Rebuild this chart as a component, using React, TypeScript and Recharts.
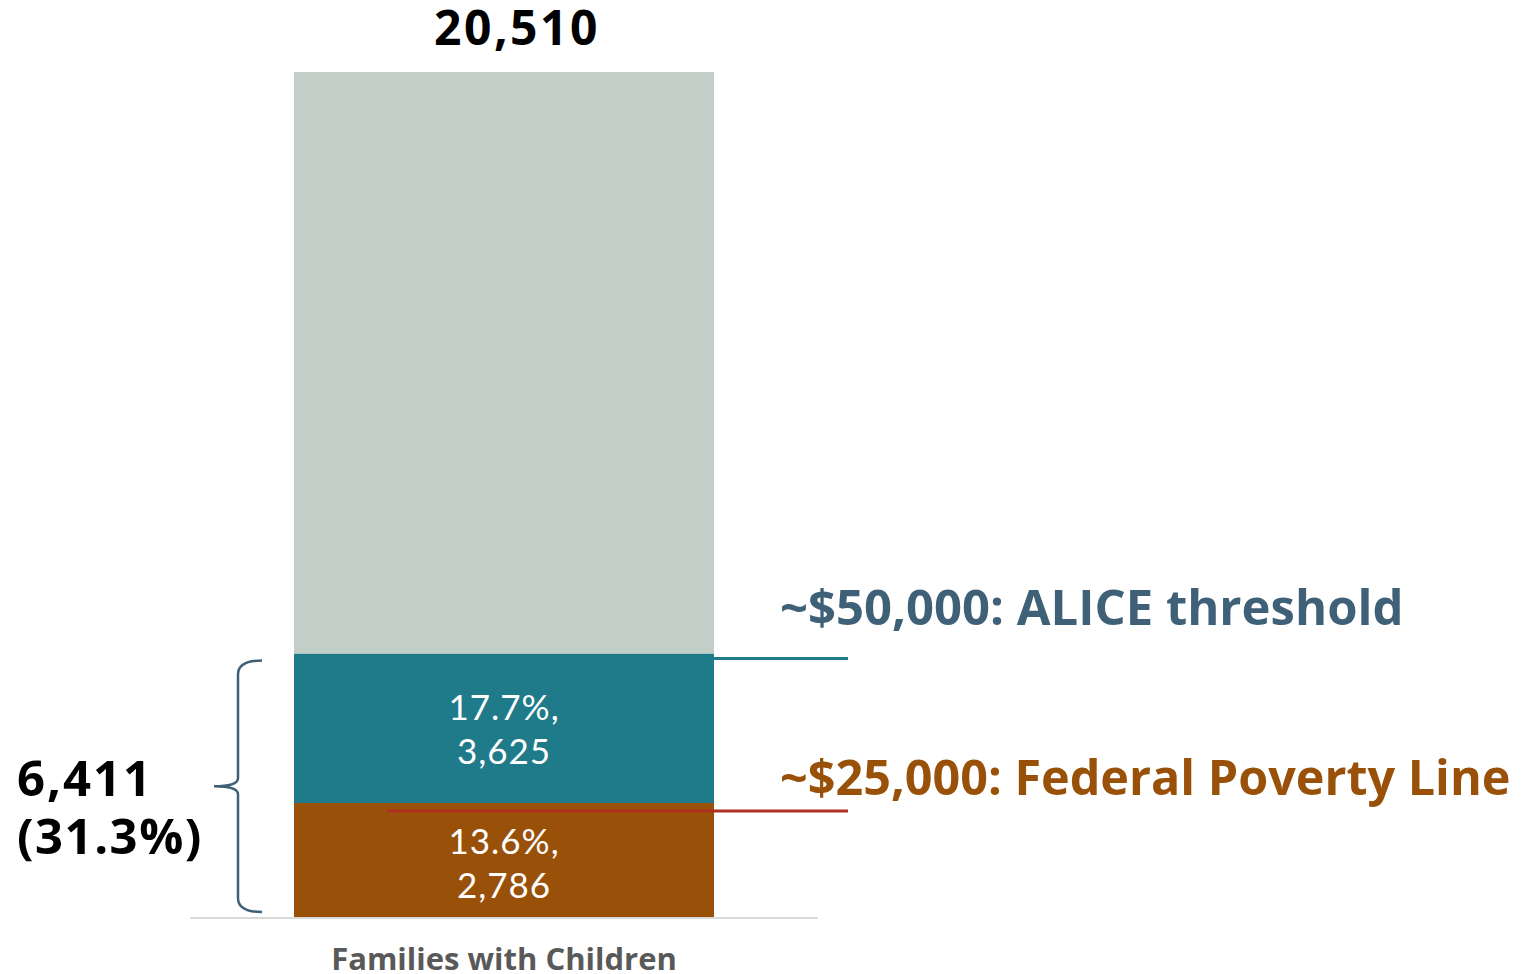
import { ComposedChart, Bar, XAxis, YAxis, LabelList, Rectangle } from 'recharts';

const categories = ['Families with Children'];
const povertyValues = [2786];
const aliceValues = [3625];
const aboveValues = [14099];
const totals = [20510];
const povertyShares = ['13.6%'];
const aliceShares = ['17.7%'];
const belowAliceTotal = '6,411';
const belowAliceShare = '(31.3%)';
const aliceLabel = '~$50,000: ALICE threshold';
const povertyLabel = '~$25,000: Federal Poverty Line';

const data = categories.map((name, i) => ({
  name,
  poverty: povertyValues[i],
  alice: aliceValues[i],
  above: aboveValues[i],
}));

const fmt = (n: number) => n.toLocaleString('en-US');

const COLORS = {
  poverty: '#99510A',
  alice: '#1F7A8A',
  above: '#C2CFC8',
  aliceText: '#3F6178',
  povertyText: '#99510A',
  aliceLine: '#1F7A8A',
  povertyLine: '#B0301F',
  brace: '#3F6178',
};

const inner = { fill: '#fff', fontSize: 35, fontFamily: 'Lato', letterSpacing: 1 };
const heavy = { fontSize: 49, fontWeight: 700, fontFamily: 'Open Sans' };

const AliceLabel = (props: any) => {
  const { x, y, width, height, index } = props;
  const cx = x + width / 2;
  const cy = y + height / 2;
  // bottom of the stack, from this bar's pixels-per-unit
  const unit = height / aliceValues[index];
  const bottom = y + height + povertyValues[index] * unit;
  const top = y + 7;
  const bot = bottom - 6;
  const mid = (top + bot) / 2;
  const bx = 262;
  const brace = `M ${bx} ${top} Q ${bx - 24} ${top} ${bx - 24} ${top + 14} L ${bx - 24} ${mid - 8} Q ${bx - 24} ${mid} ${bx - 48} ${mid} Q ${bx - 24} ${mid} ${bx - 24} ${mid + 8} L ${bx - 24} ${bot - 14} Q ${bx - 24} ${bot} ${bx} ${bot}`;
  return (
    <g>
      <text x={cx} y={cy - 22} textAnchor="middle" dominantBaseline="central" {...inner}>
        {aliceShares[index]},
      </text>
      <text x={cx} y={cy + 22} textAnchor="middle" dominantBaseline="central" {...inner}>
        {fmt(aliceValues[index])}
      </text>
      <line x1={x + width} x2={x + width + 134} y1={y + 5} y2={y + 5} stroke={COLORS.aliceLine} strokeWidth={3} />
      <text x={x + width + 66} y={y - 29} fill={COLORS.aliceText} {...heavy}>
        {aliceLabel}
      </text>
      <path d={brace} fill="none" stroke={COLORS.brace} strokeWidth={2.5} />
      <text x={17} y={mid + 10} fill="#000" {...heavy} letterSpacing={2}>
        {belowAliceTotal}
      </text>
      <text x={17} y={mid + 68} fill="#000" {...heavy} letterSpacing={1.5}>
        {belowAliceShare}
      </text>
    </g>
  );
};

const PovertyLabel = (props: any) => {
  const { x, y, width, height, index } = props;
  const cx = x + width / 2;
  const cy = y + height / 2;
  return (
    <g>
      <text x={cx} y={cy - 21} textAnchor="middle" dominantBaseline="central" {...inner}>
        {povertyShares[index]},
      </text>
      <text x={cx} y={cy + 23} textAnchor="middle" dominantBaseline="central" {...inner}>
        {fmt(povertyValues[index])}
      </text>
      <text x={x + width + 66} y={y - 8} fill={COLORS.povertyText} {...heavy} fontSize={48.5}>
        {povertyLabel}
      </text>
    </g>
  );
};

// poverty bar with the poverty line drawn over it
const PovertyShape = (props: any) => {
  const x = Number(props.x);
  const y = Number(props.y);
  const width = Number(props.width);
  const height = Number(props.height);
  return (
    <g>
      <Rectangle x={x} y={y} width={width} height={height} fill={COLORS.poverty} />
      <line x1={x + 93} x2={x + width + 134} y1={y + 8} y2={y + 8} stroke={COLORS.povertyLine} strokeWidth={3} />
    </g>
  );
};

const TotalLabel = (props: any) => {
  const { x, y, width, index } = props;
  return (
    <text x={x + width / 2 + 13} y={y - 27} textAnchor="middle" fill="#000" fontSize={48} fontWeight={700} fontFamily="Open Sans" letterSpacing={2.5}>
      {fmt(totals[index])}
    </text>
  );
};

const Tick = (props: any) => {
  const { x, y, payload } = props;
  return (
    <text x={x} y={y + 44} textAnchor="middle" fill="#595959" fontSize={31} fontWeight={700} fontFamily="Open Sans">
      {payload.value}
    </text>
  );
};

export default function App() {
  return (
    <div style={{ position: 'absolute', left: 0, top: 0, background: '#fff' }}>
      <ComposedChart
        width={1529}
        height={974}
        data={data}
        margin={{ top: 72, right: 711, left: 190, bottom: 0 }}
        barCategoryGap={104}
      >
        <XAxis
          dataKey="name"
          height={56}
          tickLine={false}
          axisLine={{ stroke: '#D9D9D9', strokeWidth: 2 }}
          tick={<Tick />}
          interval={0}
        />
        <YAxis hide domain={[0, totals[0]]} />
        <Bar dataKey="poverty" stackId="a" fill={COLORS.poverty} shape={<PovertyShape />} isAnimationActive={false}>
          <LabelList dataKey="poverty" content={<PovertyLabel />} />
        </Bar>
        <Bar dataKey="alice" stackId="a" fill={COLORS.alice} isAnimationActive={false}>
          <LabelList dataKey="alice" content={<AliceLabel />} />
        </Bar>
        <Bar dataKey="above" stackId="a" fill={COLORS.above} isAnimationActive={false}>
          <LabelList dataKey="above" content={<TotalLabel />} />
        </Bar>
      </ComposedChart>
    </div>
  );
}
